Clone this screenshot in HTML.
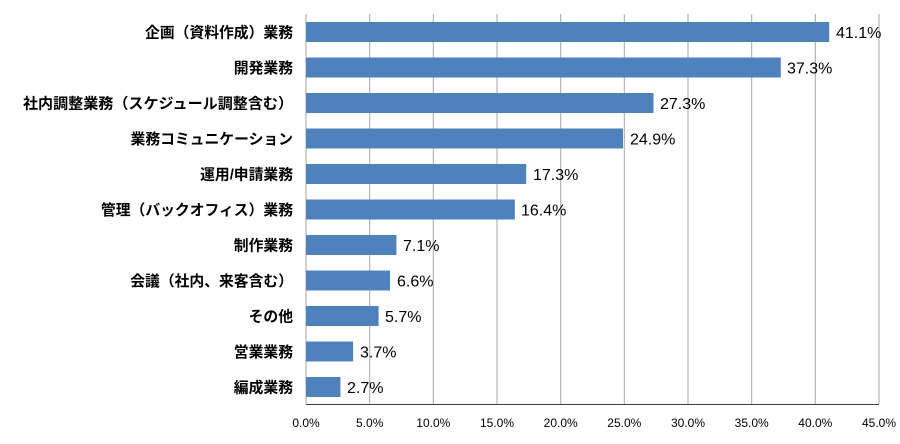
<!DOCTYPE html>
<html><head><meta charset="utf-8"><style>
html,body{margin:0;padding:0;background:#fff;}
svg text{font-family:"Liberation Sans","Noto Sans CJK JP",sans-serif;}
</style></head><body>
<svg width="900" height="439" xmlns="http://www.w3.org/2000/svg">
<g stroke="#a6a6a6" stroke-width="1">
<line x1="306" y1="14" x2="306" y2="404"/>
<line x1="369.7" y1="14" x2="369.7" y2="404"/>
<line x1="433.3" y1="14" x2="433.3" y2="404"/>
<line x1="497" y1="14" x2="497" y2="404"/>
<line x1="560.7" y1="14" x2="560.7" y2="404"/>
<line x1="624.3" y1="14" x2="624.3" y2="404"/>
<line x1="688" y1="14" x2="688" y2="404"/>
<line x1="751.7" y1="14" x2="751.7" y2="404"/>
<line x1="815.3" y1="14" x2="815.3" y2="404"/>
<line x1="879" y1="14" x2="879" y2="404"/>
</g>
<line x1="306" y1="404.5" x2="879" y2="404.5" stroke="#404040" stroke-width="1"/>
<g fill="#4f81bd">
<rect x="306" y="22" width="523.2" height="20"/>
<rect x="306" y="57.5" width="474.8" height="20"/>
<rect x="306" y="93" width="347.5" height="20"/>
<rect x="306" y="128.5" width="317" height="20"/>
<rect x="306" y="164" width="220.2" height="20"/>
<rect x="306" y="199.5" width="208.8" height="20"/>
<rect x="306" y="235" width="90.4" height="20"/>
<rect x="306" y="270.5" width="84" height="20"/>
<rect x="306" y="306" width="72.6" height="20"/>
<rect x="306" y="341.5" width="47.1" height="20"/>
<rect x="306" y="377" width="34.4" height="20"/>
</g>
<g font-size="16" fill="#000">
<text x="836" y="38">41.1%</text>
<text x="787" y="73.5">37.3%</text>
<text x="660" y="109">27.3%</text>
<text x="630" y="144.5">24.9%</text>
<text x="533" y="180">17.3%</text>
<text x="521" y="215.5">16.4%</text>
<text x="403" y="251">7.1%</text>
<text x="397" y="286.5">6.6%</text>
<text x="385" y="322">5.7%</text>
<text x="360" y="357.5">3.7%</text>
<text x="347" y="393">2.7%</text>
</g>
<g font-size="14.8" font-weight="bold" fill="#000" text-anchor="end">
<text x="293" y="37.5">企画（資料作成）業務</text>
<text x="293" y="73">開発業務</text>
<text x="293" y="108.5" textLength="270" lengthAdjust="spacingAndGlyphs">社内調整業務（スケジュール調整含む）</text>
<text x="293" y="144">業務コミュニケーション</text>
<text x="293" y="179.5">運用/申請業務</text>
<text x="293" y="215">管理（バックオフィス）業務</text>
<text x="293" y="250.5">制作業務</text>
<text x="293" y="286">会議（社内、来客含む）</text>
<text x="293" y="321.5">その他</text>
<text x="293" y="357">営業業務</text>
<text x="293" y="392.5">編成業務</text>
</g>
<g font-size="12" fill="#000" text-anchor="middle">
<text x="306" y="427">0.0%</text>
<text x="369.7" y="427">5.0%</text>
<text x="433.3" y="427">10.0%</text>
<text x="497" y="427">15.0%</text>
<text x="560.7" y="427">20.0%</text>
<text x="624.3" y="427">25.0%</text>
<text x="688" y="427">30.0%</text>
<text x="751.7" y="427">35.0%</text>
<text x="815.3" y="427">40.0%</text>
<text x="879" y="427">45.0%</text>
</g>
</svg>
</body></html>
